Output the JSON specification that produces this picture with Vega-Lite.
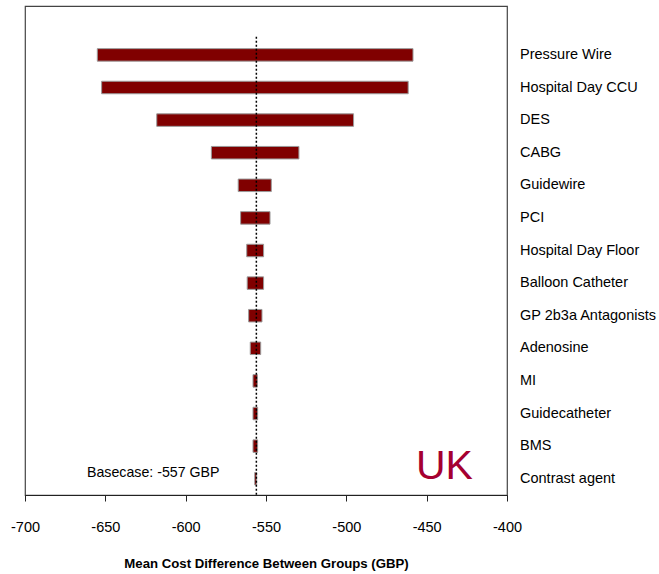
{
  "$schema": "https://vega.github.io/schema/vega-lite/v6.json",
  "width": 482,
  "height": 489,
  "autosize": {"type": "none"},
  "padding": {"left": 25, "top": 6, "right": 152, "bottom": 79},
  "background": "white",
  "config": {
    "font": "Liberation Sans",
    "view": {"stroke": "#444", "strokeWidth": 1.2}
  },
  "data": {
    "values": [
      {"param": "Pressure Wire", "low": -655, "high": -458.5},
      {"param": "Hospital Day CCU", "low": -652.3, "high": -461.5},
      {"param": "DES", "low": -618, "high": -495.5},
      {"param": "CABG", "low": -584, "high": -529.5},
      {"param": "Guidewire", "low": -567.3, "high": -546.7},
      {"param": "PCI", "low": -565.8, "high": -547.5},
      {"param": "Hospital Day Floor", "low": -562, "high": -551.5},
      {"param": "Balloon Catheter", "low": -561.7, "high": -551.5},
      {"param": "GP 2b3a Antagonists", "low": -560.8, "high": -552.5},
      {"param": "Adenosine", "low": -559.8, "high": -553.3},
      {"param": "MI", "low": -558.1, "high": -555.4},
      {"param": "Guidecatheter", "low": -558.1, "high": -555.2},
      {"param": "BMS", "low": -558.1, "high": -555.2},
      {"param": "Contrast agent", "low": -557, "high": -555.8}
    ]
  },
  "resolve": {"scale": {"y": "independent"}},
  "layer": [
    {
      "layer": [
        {
          "mark": {"type": "bar", "fill": "#800000", "stroke": "#9a9a9a", "strokeWidth": 1, "height": 12.5},
          "encoding": {
            "x": {
              "field": "low",
              "type": "quantitative",
              "scale": {"domain": [-700, -400], "nice": false, "zero": false},
              "axis": {
                "values": [-700, -650, -600, -550, -500, -450, -400],
                "labelExpr": "'' + datum.value",
                "grid": false,
                "domainColor": "#222",
                "domainWidth": 1.2,
                "tickColor": "#222",
                "tickSize": 6,
                "labelFontSize": 14.5,
                "labelColor": "#000",
                "labelPadding": 30,
                "labelBaseline": "alphabetic",
                "labelFlush": false,
                "title": "Mean Cost Difference Between Groups (GBP)",
                "titleFontSize": 13.2,
                "titleFontWeight": "bold",
                "titleColor": "#000",
                "titleBaseline": "alphabetic",
                "titleY": 72
              }
            },
            "x2": {"field": "high"},
            "y": {
              "field": "param",
              "type": "nominal",
              "sort": null,
              "scale": {
                "domain": [" ", "Pressure Wire", "Hospital Day CCU", "DES", "CABG", "Guidewire", "PCI", "Hospital Day Floor", "Balloon Catheter", "GP 2b3a Antagonists", "Adenosine", "MI", "Guidecatheter", "BMS", "Contrast agent"],
                "paddingInner": 0,
                "paddingOuter": 0
              },
              "axis": {
                "orient": "right",
                "title": null,
                "domain": false,
                "ticks": false,
                "labelFontSize": 14.5,
                "labelColor": "#000",
                "labelPadding": 12.5,
                "labelBaseline": "middle",
                "labelLimit": 200
              }
            }
          }
        },
        {
          "data": {"values": [{"label": "Basecase: -557 GBP", "x": -661.4, "row": "Contrast agent"}]},
          "mark": {"type": "text", "align": "left", "baseline": "alphabetic", "fontSize": 14.2, "color": "#000", "dy": -2},
          "encoding": {
            "x": {"field": "x", "type": "quantitative"},
            "y": {"field": "row", "type": "nominal"},
            "text": {"field": "label"}
          }
        },
        {
          "data": {"values": [{"label": "UK", "x": -456.7, "row": "Contrast agent"}]},
          "mark": {"type": "text", "align": "left", "baseline": "alphabetic", "fontSize": 41, "color": "#a50030", "dy": 0},
          "encoding": {
            "x": {"field": "x", "type": "quantitative"},
            "y": {"field": "row", "type": "nominal"},
            "text": {"field": "label"}
          }
        }
      ]
    },
    {
      "data": {"values": [{"base": -556, "top": 0.937, "bottom": 0}]},
      "mark": {"type": "rule", "color": "#000", "strokeWidth": 1.5, "strokeDash": [2, 2]},
      "encoding": {
        "x": {"field": "base", "type": "quantitative"},
        "y": {"field": "top", "type": "quantitative", "scale": {"domain": [0, 1], "nice": false}, "axis": null},
        "y2": {"field": "bottom"}
      }
    }
  ]
}
